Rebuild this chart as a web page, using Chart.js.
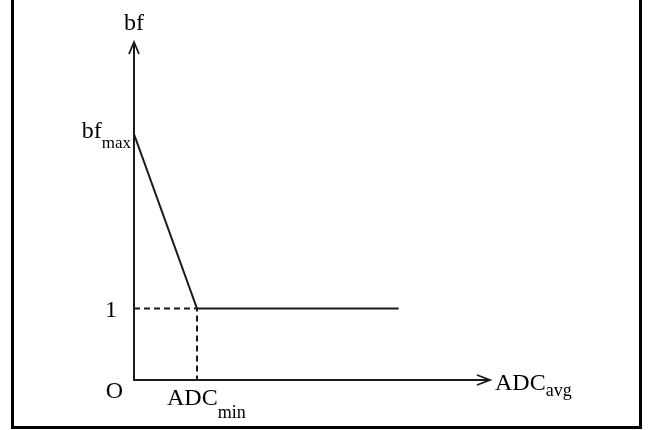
<!DOCTYPE html>
<html lang="en">
<head>
    <meta charset="UTF-8">
    <title>bf vs ADC</title>
    <script src="https://cdn.jsdelivr.net/npm/chart.js"></script>
    <style>
        body {
            margin: 0;
            padding: 0;
            background: #fff;
        }

        .frame {
            position: absolute;
            left: 11px;
            top: 0;
            width: 625px;
            height: 426px;
            border-left: 3px solid #000;
            border-right: 3px solid #000;
            border-bottom: 3px solid #000;
        }

        canvas {
            position: absolute;
            left: 0;
            top: 0;
        }
    </style>
    <script>
        // curve: bf falls from bf_max to 1 at ADC_min, then stays at 1
        const curveX = [0, 1, 4.2];
        const curveY = [3.44, 1, 1];

        // dashed guide lines to ADC_min and 1
        const guideX = [0, 1, 1];
        const guideY = [1, 1, 0];

        // axis ends (arrow tips)
        const xAxisMax = 5.65;
        const yAxisMax = 4.73;

        const FONT = '"Liberation Serif", "Times New Roman", serif';
        const INK = '#000';

        function drawSub(ctx, x, y, main, sub, mainSize, subSize, subDrop, align) {
            ctx.font = mainSize + 'px ' + FONT;
            const w1 = ctx.measureText(main).width;
            ctx.font = subSize + 'px ' + FONT;
            const w2 = ctx.measureText(sub).width;
            let start = x;
            if (align === 'right') start = x - w1 - w2;
            ctx.textAlign = 'left';
            ctx.textBaseline = 'alphabetic';
            ctx.font = mainSize + 'px ' + FONT;
            ctx.fillText(main, start, y);
            ctx.font = subSize + 'px ' + FONT;
            ctx.fillText(sub, start + w1, y + subDrop);
        }

        const axesPlugin = {
            id: 'arrowAxes',
            beforeDatasetsDraw(chart) {
                const ctx = chart.ctx;
                const xs = chart.scales.x;
                const ys = chart.scales.y;
                const x0 = xs.getPixelForValue(0);
                const y0 = ys.getPixelForValue(0);
                const xEnd = xs.getPixelForValue(xAxisMax);
                const yEnd = ys.getPixelForValue(yAxisMax);

                ctx.save();
                ctx.strokeStyle = '#1a1a1a';
                ctx.lineWidth = 2;
                ctx.beginPath();
                ctx.moveTo(x0, yEnd);
                ctx.lineTo(x0, y0);
                ctx.lineTo(xEnd, y0);
                ctx.stroke();

                // open arrow heads
                ctx.lineWidth = 1.8;
                ctx.beginPath();
                ctx.moveTo(x0 - 5, yEnd + 12);
                ctx.lineTo(x0, yEnd);
                ctx.lineTo(x0 + 5, yEnd + 12);
                ctx.moveTo(xEnd - 13, y0 - 5);
                ctx.lineTo(xEnd, y0);
                ctx.lineTo(xEnd - 13, y0 + 5);
                ctx.stroke();
                ctx.restore();
            },
            afterDraw(chart) {
                const ctx = chart.ctx;
                const xs = chart.scales.x;
                const ys = chart.scales.y;
                const x0 = xs.getPixelForValue(0);
                const y0 = ys.getPixelForValue(0);
                const xEnd = xs.getPixelForValue(xAxisMax);
                const yEnd = ys.getPixelForValue(yAxisMax);
                const xMin = xs.getPixelForValue(curveX[1]);
                const yOne = ys.getPixelForValue(1);
                const yMax = ys.getPixelForValue(curveY[0]);

                ctx.save();
                ctx.fillStyle = INK;

                // axis names
                ctx.font = '24px ' + FONT;
                ctx.textAlign = 'center';
                ctx.textBaseline = 'alphabetic';
                ctx.fillText('bf', x0, yEnd - 12);
                drawSub(ctx, xEnd + 5, y0 + 10, 'ADC', 'avg', 24, 18, 6, 'left');

                // tick-like labels
                drawSub(ctx, x0 - 3, yMax + 4, 'bf', 'max', 24, 17, 10, 'right');
                ctx.font = '24px ' + FONT;
                ctx.textAlign = 'right';
                ctx.fillText('1', x0 - 17, yOne + 8);
                ctx.fillText('O', x0 - 11, y0 + 18);
                drawSub(ctx, xMin - 30, y0 + 25, 'ADC', 'min', 24, 18, 13, 'left');

                ctx.restore();
            }
        };

        document.addEventListener('DOMContentLoaded', () => {
            const ctx = document.getElementById('bfChart').getContext('2d');
            new Chart(ctx, {
                type: 'scatter',
                data: {
                    datasets: [{
                        label: 'bf',
                        data: curveX.map((x, i) => ({ x: x, y: curveY[i] })),
                        showLine: true,
                        borderColor: '#1a1a1a',
                        borderWidth: 2,
                        pointRadius: 0,
                        fill: false
                    }, {
                        label: 'guide',
                        data: guideX.map((x, i) => ({ x: x, y: guideY[i] })),
                        showLine: true,
                        borderColor: '#1a1a1a',
                        borderWidth: 2,
                        borderDash: [6, 4],
                        pointRadius: 0,
                        fill: false
                    }]
                },
                options: {
                    responsive: false,
                    animation: false,
                    layout: {
                        padding: { left: 134, right: 162, top: 42, bottom: 50 }
                    },
                    plugins: {
                        legend: { display: false },
                        tooltip: { enabled: false }
                    },
                    scales: {
                        x: { type: 'linear', min: 0, max: xAxisMax, display: false },
                        y: { type: 'linear', min: 0, max: yAxisMax, display: false }
                    }
                },
                plugins: [axesPlugin]
            });
        });
    </script>
</head>
<body>
    <div class="frame"></div>
    <canvas id="bfChart" width="652" height="430"></canvas>
</body>
</html>
